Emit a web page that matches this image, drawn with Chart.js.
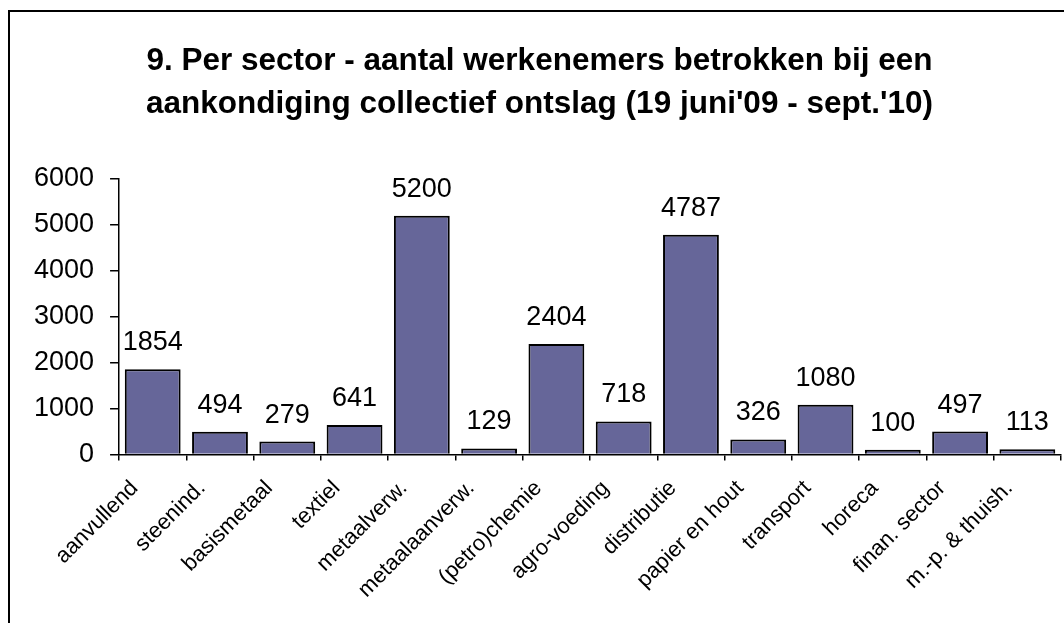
<!DOCTYPE html>
<html>
<head>
<meta charset="utf-8">
<script src="https://cdn.jsdelivr.net/npm/chart.js@4"></script>
<style>
  html, body { margin: 0; padding: 0; background: #fff; overflow: hidden; }
  #wrap { position: relative; width: 1064px; height: 623px; }
  #frame { position: absolute; left: 8px; top: 10px; width: 1100px; height: 700px;
           border-left: 2px solid #000; border-top: 2px solid #000; box-sizing: border-box; }
  canvas { position: absolute; left: 0; top: 0; }
</style>
</head>
<body>
<div id="wrap">
  <div id="frame"></div>
  <canvas id="c" width="1064" height="623"></canvas>
</div>
<script>
const titleLines = ["9. Per sector - aantal werkenemers betrokken bij een", "aankondiging collectief ontslag (19 juni'09 - sept.'10)"];
const categories = ["aanvullend", "steenind.", "basismetaal", "textiel", "metaalverw.", "metaalaanverw.", "(petro)chemie", "agro-voeding", "distributie", "papier en hout", "transport", "horeca", "finan. sector", "m.-p. & thuish."];
const values = [1854, 494, 279, 641, 5200, 129, 2404, 718, 4787, 326, 1080, 100, 497, 113];
const yTicks = [0, 1000, 2000, 3000, 4000, 5000, 6000];

const FONT = "'Liberation Sans', Arial, sans-serif";

const valueLabels = {
  id: 'valueLabels',
  afterDatasetsDraw(chart) {
    const ctx = chart.ctx;
    const meta = chart.getDatasetMeta(0);
    ctx.save();
    ctx.font = "27px " + FONT;
    ctx.fillStyle = "#000";
    ctx.textAlign = "center";
    ctx.textBaseline = "alphabetic";
    meta.data.forEach((bar, i) => {
      ctx.fillText(String(values[i]), bar.x, bar.y - 19);
    });
    ctx.restore();
  }
};

new Chart(document.getElementById('c'), {
  type: 'bar',
  data: {
    labels: categories,
    datasets: [{
      data: values,
      backgroundColor: '#666699',
      borderColor: '#000',
      borderWidth: 2,
      barPercentage: 0.83,
      categoryPercentage: 1.0
    }]
  },
  options: {
    responsive: false,
    animation: false,
    layout: { padding: { left: 18, right: 3, top: 0, bottom: 5 } },
    plugins: {
      legend: { display: false },
      tooltip: { enabled: false },
      title: {
        display: true,
        text: titleLines,
        color: '#000',
        font: { family: FONT, size: 31.5, weight: 'bold', lineHeight: 1.365 },
        padding: { top: 40, bottom: 53 }
      }
    },
    scales: {
      x: {
        grid: { display: true, drawOnChartArea: false, color: '#000', lineWidth: 1.5, tickLength: 6, offset: true },
        border: { display: true, color: '#000', width: 1.5 },
        ticks: {
          color: '#000',
          font: { family: FONT, size: 22 },
          maxRotation: 45, minRotation: 45,
          padding: 15,
          labelOffset: -18,
          autoSkip: false
        }
      },
      y: {
        min: 0, max: 6000,
        afterBuildTicks(axis) { axis.ticks = yTicks.map(v => ({ value: v })); },
        grid: { display: true, drawOnChartArea: false, color: '#000', lineWidth: 1.5, tickLength: 9 },
        border: { display: true, color: '#000', width: 1.5 },
        ticks: {
          color: '#000',
          font: { family: FONT, size: 27 },
          padding: 16,
          callback: (v) => String(v)
        }
      }
    }
  },
  plugins: [valueLabels]
});
</script>
</body>
</html>
